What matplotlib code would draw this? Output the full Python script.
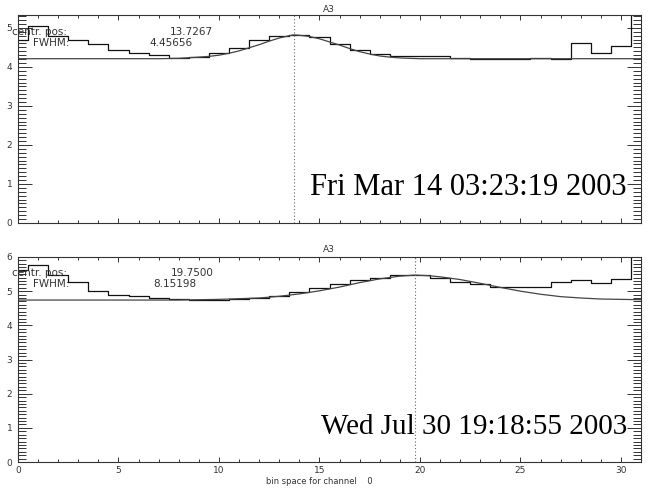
import matplotlib
matplotlib.use("Agg")
import matplotlib.pyplot as plt
from matplotlib.ticker import MultipleLocator

W, H = 650, 488

# ---------------- data ----------------
bins = list(range(32))

top_counts = [4.68, 5.05, 4.79, 4.68, 4.58, 4.44, 4.35, 4.30, 4.23, 4.26,
              4.36, 4.49, 4.68, 4.79, 4.82, 4.77, 4.58, 4.43, 4.33, 4.28,
              4.28, 4.28, 4.24, 4.21, 4.21, 4.21, 4.22, 4.21, 4.62, 4.35,
              4.53, 5.60]
top_fit_x = [0, 7, 8, 9, 9.5, 10, 10.5, 11, 11.5, 12, 12.5, 13, 13.5, 13.73,
             14, 14.5, 15, 15.5, 16, 16.5, 17, 17.5, 18, 18.5, 19, 20, 21, 31]
top_fit_y = [4.21, 4.21, 4.22, 4.25, 4.27, 4.30, 4.35, 4.41, 4.49, 4.57, 4.66,
             4.74, 4.80, 4.82, 4.81, 4.78, 4.72, 4.64, 4.56, 4.47, 4.39, 4.33,
             4.28, 4.25, 4.23, 4.21, 4.21, 4.21]
top_centre = 13.7267
top_fwhm = 4.45656
top_date = "Fri Mar 14 03:23:19 2003"

bot_counts = [5.62, 5.76, 5.48, 5.27, 5.00, 4.90, 4.85, 4.80, 4.76, 4.74,
              4.74, 4.76, 4.80, 4.87, 4.98, 5.10, 5.22, 5.33, 5.40, 5.48,
              5.46, 5.40, 5.27, 5.20, 5.13, 5.12, 5.13, 5.27, 5.32, 5.24,
              5.37, 6.30]
bot_fit_x = [0, 8, 9, 10, 11, 12, 13, 14, 15, 16, 17, 18, 19, 19.75, 20.5, 21,
             22, 23, 24, 25, 26, 27, 28, 29, 30, 31]
bot_fit_y = [4.74, 4.74, 4.75, 4.76, 4.78, 4.80, 4.85, 4.92, 5.01, 5.12, 5.25,
             5.36, 5.44, 5.47, 5.45, 5.42, 5.34, 5.23, 5.11, 5.00, 4.91, 4.84,
             4.80, 4.77, 4.76, 4.75]
bot_centre = 19.7500
bot_fwhm = 8.15198
bot_date = "Wed Jul 30 19:18:55 2003"

panel_title = "A3"
x_label = "bin space for channel    0"
x_ticks = [0, 5, 10, 15, 20, 25, 30]

# ---------------- drawing ----------------
fig = plt.figure(figsize=(W / 100, H / 100), dpi=100)
fig.patch.set_facecolor("white")


def fx(px):
    return px / W


def fy(py):
    return 1 - py / H


def make_axes(left, top, right, bottom):
    return fig.add_axes([fx(left), fy(bottom), fx(right) - fx(left),
                         fy(top) - fy(bottom)])


def setup(ax, ymax, show_xlabels):
    ax.set_xlim(0, 31)
    ax.set_ylim(0, ymax)
    ax.set_xticks(x_ticks)
    ax.xaxis.set_minor_locator(MultipleLocator(1))
    ax.yaxis.set_major_locator(MultipleLocator(1))
    ax.yaxis.set_minor_locator(MultipleLocator(0.1))
    ax.tick_params(which="both", direction="in", top=True, right=True,
                   colors="#333333", width=0.7, labelsize=6.5,
                   labelcolor="#333333")
    ax.xaxis.set_tick_params(which="major", length=3.6, pad=3)
    ax.xaxis.set_tick_params(which="minor", length=1.9)
    ax.yaxis.set_tick_params(which="major", length=10, pad=4)
    ax.yaxis.set_tick_params(which="minor", length=5.5)
    if not show_xlabels:
        ax.tick_params(axis="x", labelbottom=False)
    for s in ax.spines.values():
        s.set_color("#333333")
        s.set_linewidth(0.8)


def panel(ax, counts, fit_x, fit_y, centre):
    ax.step(bins, counts, where="mid", color="#111111", lw=0.9)
    ax.plot(fit_x, fit_y, color="#444444", lw=0.9)
    ax.axvline(centre, color="#666666", lw=0.8, ls=(0, (1, 2)))


ax1 = make_axes(18, 15, 641, 223)
setup(ax1, 5.33, False)
panel(ax1, top_counts, top_fit_x, top_fit_y, top_centre)

ax2 = make_axes(18, 257, 641, 462)
setup(ax2, 6.0, True)
panel(ax2, bot_counts, bot_fit_x, bot_fit_y, bot_centre)

lab = dict(fontsize=7.5, color="#333333", va="center", ha="left")
num = dict(fontsize=7.5, color="#333333", va="center", ha="center")
for (yc, centre, fwhm, cx_num, cx_fwhm) in [
        (31.7, top_centre, top_fwhm, 191, 171.5),
        (273, bot_centre, bot_fwhm, 192.5, 175)]:
    fig.text(fx(12), fy(yc), "centr. pos:", **lab)
    fig.text(fx(cx_num), fy(yc), f"{centre:#.6g}", **num)
    fig.text(fx(33), fy(yc + 11), "FWHM:", **lab)
    fig.text(fx(cx_fwhm), fy(yc + 11), f"{fwhm:#.6g}", **num)

for yt in (9, 250):
    fig.text(fx(329), fy(yt), panel_title, fontsize=6.5, color="#333333",
             ha="center", va="center")

for (yb, txt, fs) in [(195, top_date, 22), (434, bot_date, 21)]:
    fig.text(fx(627), fy(yb), txt, fontsize=fs, family="Liberation Serif",
             color="black", ha="right", va="baseline")

fig.text(fx(319), fy(481), x_label, fontsize=6, color="#333333",
         ha="center", va="center")

fig.savefig("out.png", dpi=100)
